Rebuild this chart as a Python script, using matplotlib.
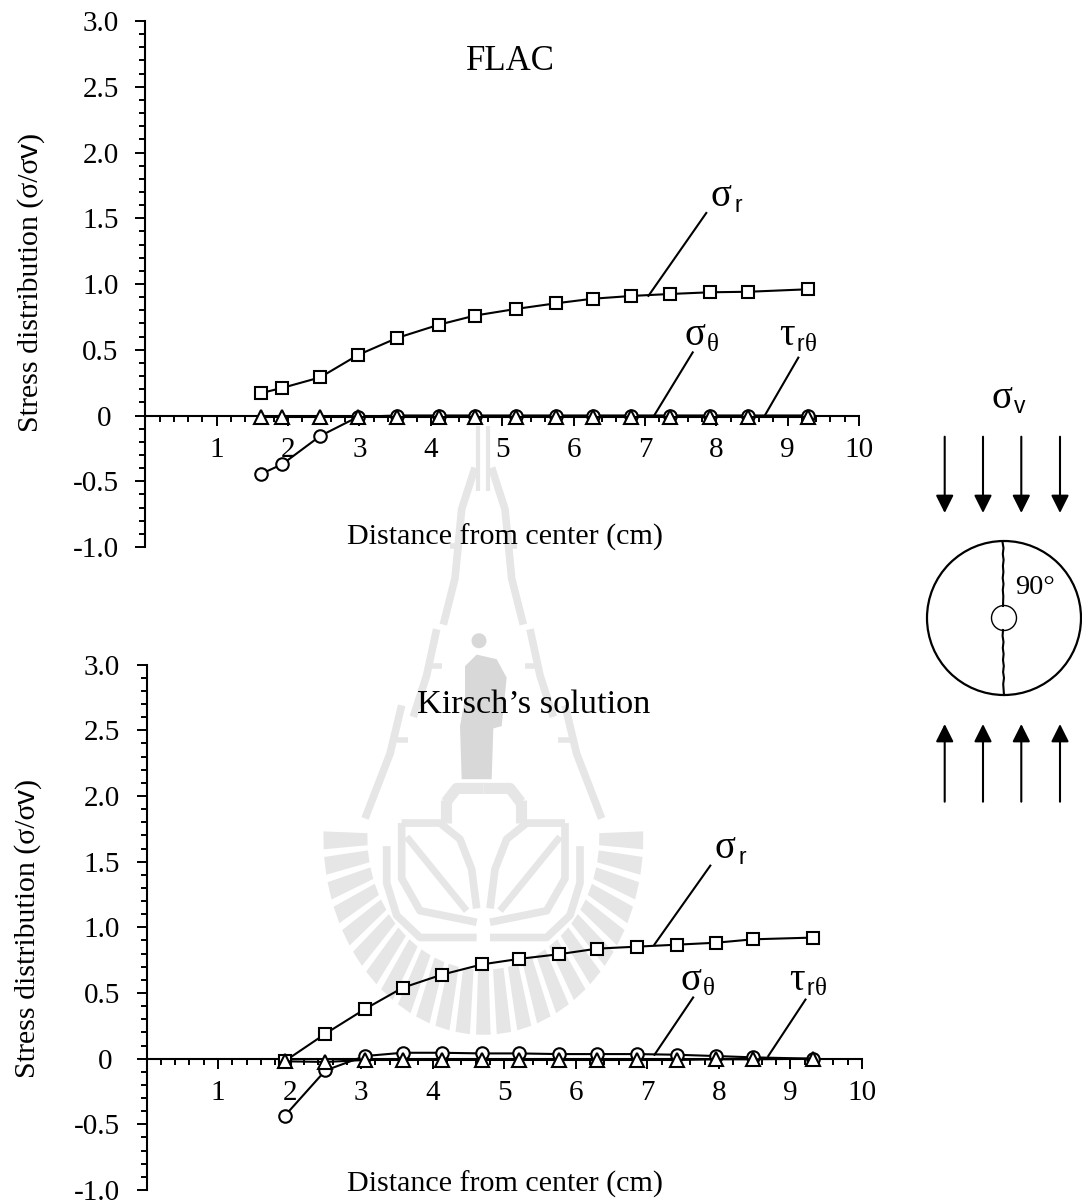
# Stress distribution around a hole: FLAC vs Kirsch's solution

import numpy as np
import matplotlib
matplotlib.use('Agg')
import matplotlib.pyplot as plt
from matplotlib.patches import Circle, Polygon
from matplotlib.ticker import MultipleLocator

W = 1082
H = 1203
SERIF = 'Liberation Serif'
SANS = 'Liberation Sans'
WM = '#e6e6e6'

# FLAC
flac_x = [1.62, 1.92, 2.45, 2.98, 3.53, 4.11, 4.62, 5.19,
          5.75, 6.27, 6.81, 7.35, 7.91, 8.45, 9.29]
flac_sr = [0.17, 0.21, 0.29, 0.46, 0.59, 0.69, 0.76, 0.81,
           0.853, 0.888, 0.909, 0.924, 0.937, 0.941, 0.96]
flac_st = [-0.445, -0.37, -0.156, -0.01, 0.0, 0.0, 0.0, 0.0,
           0.0, 0.0, 0.0, 0.0, 0.0, 0.0, 0.0]
flac_tau = [-0.01, -0.01, -0.01, -0.01, -0.01, -0.01, -0.01, -0.01,
            -0.01, -0.01, -0.01, -0.01, -0.01, -0.01, -0.01]

# Kirsch
kirsch_x = [1.93, 2.50, 3.05, 3.58, 4.13, 4.69, 5.21,
            5.76, 6.30, 6.85, 7.41, 7.96, 8.48, 9.31]
kirsch_sr = [-0.02, 0.19, 0.377, 0.54, 0.64, 0.718, 0.76,
             0.795, 0.838, 0.853, 0.868, 0.883, 0.909, 0.922]
kirsch_st = [-0.437, -0.09, 0.02, 0.045, 0.045, 0.04, 0.04,
             0.035, 0.035, 0.035, 0.03, 0.02, 0.01, 0.0]
kirsch_tau = [-0.02, -0.025, -0.01, -0.01, -0.01, -0.01, -0.01,
              -0.01, -0.01, -0.01, -0.01, -0.005, -0.005, 0.0]

y_ticks = [-1.0, -0.5, 0, 0.5, 1.0, 1.5, 2.0, 2.5, 3.0]
y_labels = ['-1.0', '-0.5', '0 ', '0.5', '1.0', '1.5', '2.0', '2.5', '3.0']
x_ticks = [1, 2, 3, 4, 5, 6, 7, 8, 9, 10]
x_label = 'Distance from center (cm)'

# leader lines, data units: (x1, y1, x2, y2)
flac_leaders = [(7.05, 0.91, 7.86, 1.54),
                (7.13, 0.0, 7.67, 0.48),
                (8.68, 0.0, 9.15, 0.44)]
kirsch_leaders = [(7.10, 0.87, 7.88, 1.47),
                  (7.10, 0.03, 7.64, 0.466),
                  (8.69, 0.02, 9.21, 0.45)]

arrow_x = [944.7, 983, 1021.3, 1060]
crack_y = [542, 548, 554, 560, 566, 572, 578, 584, 590, 596, 606]
crack_top = [1002.5, 1003.5, 1002.8, 1003.6, 1002.9, 1003.4, 1002.7, 1003.5, 1002.8, 1003.3, 1003]
crack_y2 = [630, 636, 642, 648, 654, 660, 666, 672, 678, 684, 695]
crack_bot = [1003, 1002.6, 1003.5, 1002.8, 1003.6, 1003, 1003.8, 1003.1, 1004, 1003.2, 1004]


def make_axes(fig, x0, x1, ytop, ybot):
    """ Axes placed by pixel edges, with spines crossing at zero """
    ax = fig.add_axes([x0/W, 1-ybot/H, (x1-x0)/W, (ybot-ytop)/H], zorder=2)
    ax.patch.set_alpha(0)
    ax.set_xlim(0, 10)
    ax.set_ylim(-1, 3)
    ax.spines['top'].set_visible(False)
    ax.spines['right'].set_visible(False)
    ax.spines['bottom'].set_position(('data', 0))
    ax.spines['left'].set_linewidth(1.5)
    ax.spines['bottom'].set_linewidth(1.5)
    ax.set_xticks(x_ticks)
    ax.set_yticks(y_ticks)
    ax.set_yticklabels(y_labels)
    ax.xaxis.set_minor_locator(MultipleLocator(0.2))
    ax.yaxis.set_minor_locator(MultipleLocator(0.1))
    ax.tick_params(which='major', length=7.2, width=1.4, labelsize=21)
    ax.tick_params(which='minor', length=4.2, width=1.4)
    ax.tick_params(axis='x', which='major', pad=8.5)
    ax.tick_params(axis='y', which='major', pad=12)
    for lab in ax.get_xticklabels() + ax.get_yticklabels():
        lab.set_family(SERIF)
    return ax


def plot_series(ax, x, sr, st, tau, leaders):
    """ Draw the three stress curves and the leader lines """
    style = dict(color='black', lw=1.5, mfc='white', mec='black', mew=1.5,
                 zorder=3, clip_on=False)
    ax.plot(x, sr, marker='s', ms=9, **style)
    ax.plot(x, st, marker='o', ms=9, **style)
    ax.plot(x, tau, marker='^', ms=9.8, **style)
    for x1, y1, x2, y2 in leaders:
        ax.plot([x1, x2], [y1, y2], color='black', lw=1.5, zorder=2.8)


def stress_label(ax, x, y, main, x_sub, y_sub, sub):
    """ Greek symbol with its subscript, pixel positions """
    ax.text(x, y, main, family=SERIF, fontsize=28, va='baseline', ha='left')
    if sub == 'r':
        ax.text(x_sub, y_sub, 'r', family=SANS, fontsize=16.5, va='baseline', ha='left')
    elif sub == 't':
        ax.text(x_sub, y_sub, '\u03b8', family=SERIF, fontsize=18, va='baseline', ha='left')
    elif sub == 'v':
        ax.text(x_sub, y_sub, 'v', family=SANS, fontsize=16.5, va='baseline', ha='left')
    else:
        ax.text(x_sub, y_sub, 'r', family=SANS, fontsize=16.5, va='baseline', ha='left')
        ax.text(x_sub+8.5, y_sub, '\u03b8', family=SERIF, fontsize=18, va='baseline', ha='left')


def stress_ylabel(fig, ax, x, y):
    """ Rotated axis title, built in pieces because v is in a sans font """
    renderer = fig.canvas.get_renderer()
    parts = [('Stress distribution (\u03c3/\u03c3', SERIF),
             ('v', SANS),
             (')', SERIF)]
    for txt, fam in parts:
        t = ax.text(x, y, txt, family=fam, fontsize=21.5, rotation=90,
                    ha='left', va='baseline', rotation_mode='anchor')
        y = y - t.get_window_extent(renderer).height


def wm(zx, zy):
    """ Convert watermark sketch coords to pixels """
    return 280+zx/3, 440+zy*0.4615


def wm_line(ax, pts, lw):
    xs, ys = zip(*[wm(*p) for p in pts])
    ax.plot(xs, ys, color=WM, lw=lw, solid_capstyle='butt', solid_joinstyle='round')


def draw_watermark(ax):
    """ Rough sketch of the grey logo behind the charts """
    mid = 610
    body = [(555, 490), (590, 465), (650, 475), (680, 515), (665, 620), (640, 625),
            (635, 735), (545, 735), (540, 620), (555, 560)]
    ax.add_patch(Polygon([wm(*p) for p in body], fc='#d8d8d8', ec='none'))
    ax.add_patch(Circle(wm(597, 435), 7.5, fc='#d8d8d8', ec='none'))

    wm_line(ax, [(595, -30), (595, 110)], 3)
    wm_line(ax, [(625, -30), (625, 110)], 3)
    tiers = [[(585, 60), (545, 150), (525, 300), (490, 400)],
             [(470, 410), (440, 510), (400, 600)],
             [(365, 575), (330, 680), (255, 820)]]
    rungs = [[(440, 490), (485, 490)], [(350, 650), (385, 650)], [(510, 230), (545, 230)]]
    for tier in tiers:
        wm_line(ax, tier, 5.5)
        wm_line(ax, [(2*mid-a, b) for a, b in tier], 5.5)
    for rung in rungs:
        wm_line(ax, rung, 4)
        wm_line(ax, [(2*mid-a, b) for a, b in rung], 4)

    for side in (1, -1):
        def flip(pts):
            return [(mid-side*(mid-a), b) for a, b in pts]
        wm_line(ax, flip([(320, 880), (320, 960), (350, 1030), (420, 1078), (590, 1078)]), 5.5)
        wm_line(ax, flip([(365, 830), (480, 830), (540, 865), (575, 930), (590, 1015)]), 5.5)
        wm_line(ax, flip([(365, 830), (365, 950), (420, 1020), (590, 1045)]), 5.5)
        wm_line(ax, flip([(380, 860), (560, 1020)]), 5)
        wm_line(ax, flip([(498, 780), (498, 830)]), 8)
        wm_line(ax, flip([(498, 785), (530, 755), (610, 755)]), 8)

    cx, cy = wm(mid, 860)
    for ang in np.linspace(1, 179, 25):
        a0 = np.radians(ang-2.6)
        a1 = np.radians(ang+2.6)
        pts = [(cx+116*np.cos(a0), cy+133*np.sin(a0)), (cx+160*np.cos(a0), cy+198*np.sin(a0)),
               (cx+160*np.cos(a1), cy+198*np.sin(a1)), (cx+116*np.cos(a1), cy+133*np.sin(a1))]
        ax.add_patch(Polygon(pts, fc=WM, ec='none'))


def draw_sketch(ax):
    """ Disc with the hole, the crack and the loading arrows """
    ax.add_patch(Circle((1004, 618), 77, fc='none', ec='black', lw=1.6))
    ax.plot(crack_top, crack_y, color='black', lw=1.5)
    ax.plot(crack_bot, crack_y2, color='black', lw=1.5)
    ax.add_patch(Circle((1004, 618), 12.5, fc='white', ec='black', lw=1.0))
    head = dict(arrowstyle='-|>,head_width=0.3,head_length=0.6', color='black', lw=1.5,
                shrinkA=0, shrinkB=0, mutation_scale=18)
    for x in arrow_x:
        ax.annotate('', xy=(x, 513), xytext=(x, 436.7), arrowprops=head)
        ax.annotate('', xy=(x, 724), xytext=(x, 801.7), arrowprops=head)
    ax.text(1015, 594, '90\u00b0', family=SERIF, fontsize=20.5, va='baseline', ha='left')


fig = plt.figure(figsize=(W/100, H/100), dpi=100)

back = fig.add_axes([0, 0, 1, 1], zorder=0)
back.set_xlim(0, W)
back.set_ylim(H, 0)
back.axis('off')
draw_watermark(back)

top = make_axes(fig, 145.3, 859, 21, 547)
plot_series(top, flac_x, flac_sr, flac_st, flac_tau, flac_leaders)

bottom = make_axes(fig, 146.5, 862, 664.7, 1190)
plot_series(bottom, kirsch_x, kirsch_sr, kirsch_st, kirsch_tau, kirsch_leaders)

front = fig.add_axes([0, 0, 1, 1], zorder=5)
front.set_xlim(0, W)
front.set_ylim(H, 0)
front.axis('off')
front.patch.set_alpha(0)

front.text(510, 62, 'FLAC', family=SERIF, fontsize=25, ha='center', va='center')
front.text(534, 705, 'Kirsch\u2019s solution', family=SERIF, fontsize=24.7, ha='center', va='center')
front.text(505, 537, x_label, family=SERIF, fontsize=21.6, ha='center', va='center')
front.text(505, 1184, x_label, family=SERIF, fontsize=21.6, ha='center', va='center')

stress_ylabel(fig, front, 38, 432)
stress_ylabel(fig, front, 35, 1078)

stress_label(front, 711, 206, '\u03c3', 735, 211.7, 'r')
stress_label(front, 684, 345, '\u03c3', 706.7, 351, 't')
stress_label(front, 779.3, 345, '\u03c4', 796.7, 351, 'rt')
stress_label(front, 715, 858, '\u03c3', 739, 864, 'r')
stress_label(front, 680, 990, '\u03c3', 702.7, 995, 't')
stress_label(front, 789.3, 990, '\u03c4', 806.7, 995, 'rt')
stress_label(front, 991.7, 408, '\u03c3', 1014, 412.7, 'v')

draw_sketch(front)

fig.savefig('out.png', dpi=100)
